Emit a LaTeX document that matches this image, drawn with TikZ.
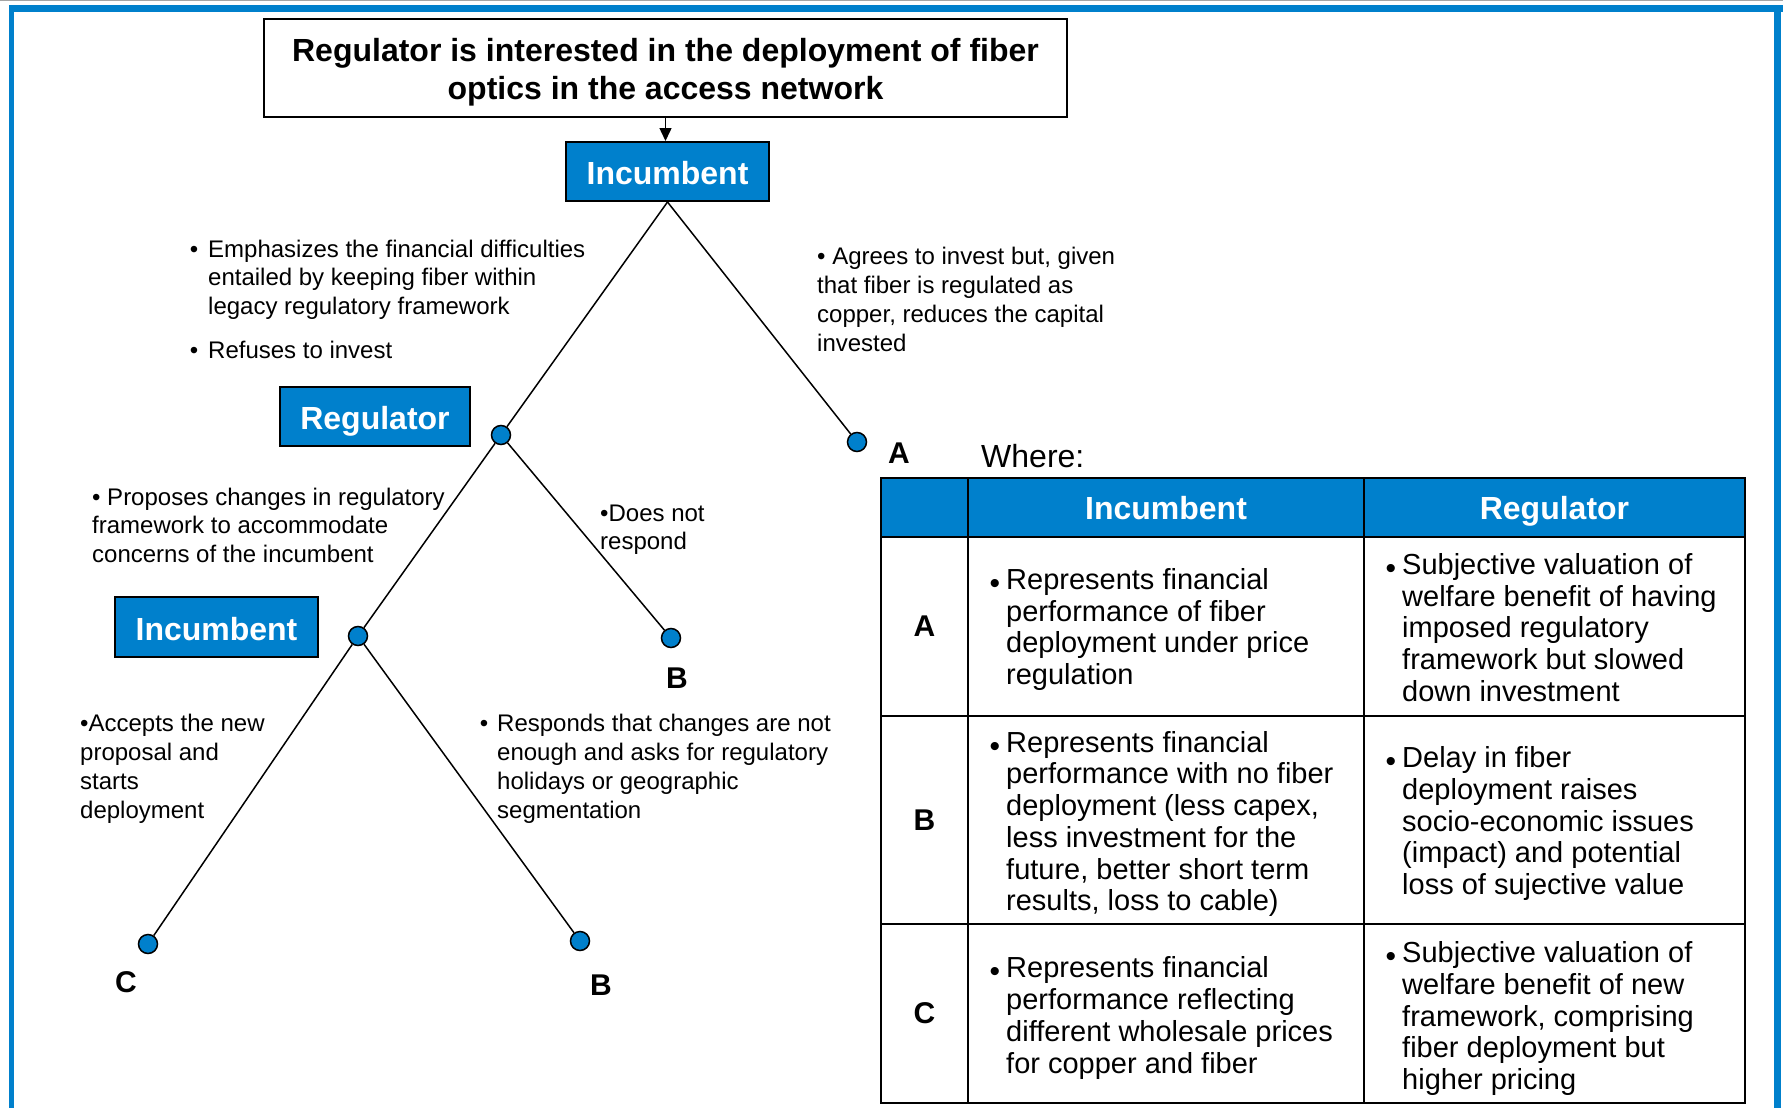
\documentclass[tikz,border=0pt]{standalone}
\usepackage{fontspec}
\setmainfont{Liberation Sans}
\usetikzlibrary{arrows.meta}
\definecolor{boxblue}{RGB}{0,128,204}
\definecolor{framegray}{RGB}{165,165,165}
\newcommand\cellbullet{\llap{\raisebox{-4pt}{\fontsize{30}{30}\selectfont •}\hspace{6pt}}}
\begin{document}
\begin{tikzpicture}[x=1pt,y=-1pt,
  bluebox/.style={draw=black,line width=2pt,fill=boxblue,text=white,font=\fontsize{32}{38}\selectfont\bfseries,inner sep=0pt,text height=26pt,text depth=0pt},
  dot/.style={circle,draw=black,line width=1.5pt,fill=boxblue,minimum size=19pt,inner sep=0pt},
  branch/.style={line width=1.5pt,draw=black},
  body/.style={anchor=base west,align=left,inner sep=0pt,font=\fontsize{24}{28.7}\selectfont},
  leaf/.style={font=\fontsize{30}{30}\selectfont\bfseries,inner sep=0pt,anchor=base},
  cell/.style={anchor=west,align=left,inner sep=0pt,font=\fontsize{29}{31.7}\selectfont},
  head/.style={font=\fontsize{32}{32}\selectfont\bfseries,text=white,inner sep=0pt,anchor=base},
  rowlab/.style={font=\fontsize{30}{30}\selectfont\bfseries,inner sep=0pt},
  gridline/.style={line width=2.7pt,draw=black},
]
\useasboundingbox (0,0) rectangle (1783,1108);
% frame
\fill[framegray] (0,0) rectangle (1783,1.5);
\fill[boxblue] (9,5) rectangle (1783,12);
\fill[boxblue] (9,5) rectangle (14,1108);
\fill[boxblue] (1774,5) rectangle (1781,1108);

% top box
\node[draw=black,line width=2pt,minimum width=803pt,minimum height=98pt,inner sep=0pt] (top) at (665.5,68) {};
\node[align=center,inner sep=0pt,font=\fontsize{32}{38}\selectfont\bfseries] (toptext) at (665.5,72.5) {Regulator is interested in the deployment of fiber\\optics in the access network};

% player boxes
\node[bluebox,minimum width=203pt,minimum height=59pt] (inc1) at (667.5,171.5) {Incumbent};
\node[bluebox,minimum width=190pt,minimum height=59pt] (reg) at (375,416.5) {Regulator};
\node[bluebox,minimum width=203pt,minimum height=60pt] (inc2) at (216.5,627) {Incumbent};

\draw[line width=1.5pt,-{Triangle[length=13pt,width=12pt]}] (top.south) -- (top.south |- inc1.north);

% decision dots
\node[dot] (d1) at (501,435) {};
\node[dot] (dA) at (857,442) {};
\node[dot] (d2) at (358,636) {};
\node[dot] (dB1) at (671,638) {};
\node[dot] (dC) at (148,944) {};
\node[dot] (dB2) at (580,941) {};

\draw[branch] (inc1.south) -- (d1);
\draw[branch] (inc1.south) -- (dA);
\draw[branch] (d1) -- (d2);
\draw[branch] (d1) -- (dB1);
\draw[branch] (d2) -- (dC);
\draw[branch] (d2) -- (dB2);

% leaf labels
\node[leaf] (lA) at (899,463) {A};
\node[leaf] (lB1) at (677,688) {B};
\node[leaf] (lC) at (126,992) {C};
\node[leaf] (lB2) at (601,995) {B};

% branch texts (anchor = baseline of the last line)
\node[body] (t1) at (208,314.4) {\llap{•\hspace{10pt}}Emphasizes the financial difficulties\\entailed by keeping fiber within\\legacy regulatory framework};
\node[body] (t2) at (208,358) {\llap{•\hspace{10pt}}Refuses to invest};
\node[body] (t3) at (817,351) {• Agrees to invest but, given\\that fiber is regulated as\\copper, reduces the capital\\invested};
\node[body] (t4) at (92,562.4) {• Proposes changes in regulatory\\framework to accommodate\\concerns of the incumbent};
\node[body] (t5) at (600,549.7) {•Does not\\respond};
\node[body] (t6) at (80,818) {•Accepts the new\\proposal and\\starts\\deployment};
\node[body] (t7) at (497,818) {\llap{•\hspace{9pt}}Responds that changes are not\\enough and asks for regulatory\\holidays or geographic\\segmentation};

% table
\node[anchor=base west,inner sep=0pt,font=\fontsize{32}{32}\selectfont] (where) at (981,467) {Where:};
\fill[boxblue] (881,478) rectangle (1745,537);
\draw[gridline] (881,478) rectangle (1745,1103);
\draw[gridline] (968,478) -- (968,1103);
\draw[gridline] (1364,478) -- (1364,1103);
\draw[gridline] (881,537) -- (1745,537);
\draw[gridline] (881,716) -- (1745,716);
\draw[gridline] (881,924) -- (1745,924);

\node[head] (hInc) at (1166,519.5) {Incumbent};
\node[head] (hReg) at (1554.5,519.5) {Regulator};

\node[rowlab] (rA) at (924.5,626.5) {A};
\node[rowlab] (rB) at (924.5,820) {B};
\node[rowlab] (rC) at (924.5,1013.5) {C};

\node[cell] (cAi) at (1006,629.5) {\cellbullet Represents financial\\performance of fiber\\deployment under price\\regulation};
\node[cell] (cAr) at (1402,627.5) {\cellbullet Subjective valuation of\\welfare benefit of having\\imposed regulatory\\framework but slowed\\down investment};
\node[cell] (cBi) at (1006,824) {\cellbullet Represents financial\\performance with no fiber\\deployment (less capex,\\less investment for the\\future, better short term\\results, loss to cable)};
\node[cell] (cBr) at (1402,823.5) {\cellbullet Delay in fiber\\deployment raises\\socio-economic issues\\(impact) and potential\\loss of sujective value};
\node[cell] (cCi) at (1006,1018) {\cellbullet Represents financial\\performance reflecting\\different wholesale prices\\for copper and fiber};
\node[cell] (cCr) at (1402,1018.5) {\cellbullet Subjective valuation of\\welfare benefit of new\\framework, comprising\\fiber deployment but\\higher pricing};
\end{tikzpicture}
\end{document}
